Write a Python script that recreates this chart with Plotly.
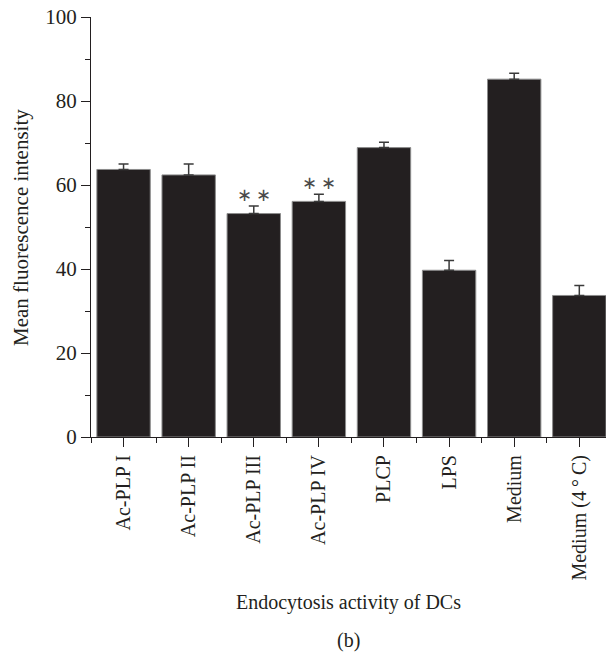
import plotly.graph_objects as go

categories = ["Ac-PLP I", "Ac-PLP II", "Ac-PLP III", "Ac-PLP IV", "PLCP", "LPS", "Medium", "Medium (4\u2009°\u2009C)"]
values = [63.7, 62.4, 53.2, 56.1, 68.9, 39.7, 85.2, 33.7]
errors = [1.3, 2.6, 1.8, 1.7, 1.3, 2.3, 1.4, 2.4]
significance = ["", "", "**", "**", "", "", "", ""]
y_ticks = [0, 20, 40, 60, 80, 100]

FONT = "Liberation Serif"
INK = "#231f20"
FS = 20

x = list(range(len(categories)))

fig = go.Figure()
fig.add_trace(go.Bar(
    x=x, y=values, width=0.82,
    marker=dict(color=INK, line=dict(color="#8c8c8c", width=1)),
    error_y=dict(type="data", symmetric=False, array=errors,
                 arrayminus=[0] * len(errors), color="#3a3a3a",
                 thickness=1.5, width=5),
    showlegend=False,
))

for i, s in enumerate(significance):
    if s:
        fig.add_annotation(x=x[i], y=values[i] + errors[i] + 2.7, text="∗\u2009∗",
                           showarrow=False, yanchor="middle",
                           font=dict(family=FONT, size=18, color="#4a4a4a"))

fig.add_annotation(x=0.5, y=-0.3936, xref="paper", yref="paper",
                   text="Endocytosis activity of DCs", showarrow=False,
                   yanchor="middle", font=dict(family=FONT, size=FS, color=INK))
fig.add_annotation(x=-0.136, y=0.5, xref="paper", yref="paper",
                   text="Mean fluorescence intensity", showarrow=False, textangle=-90,
                   xanchor="center", yanchor="middle",
                   font=dict(family=FONT, size=21, color=INK))
fig.add_annotation(x=0.5, y=-0.484, xref="paper", yref="paper", text="(b)",
                   showarrow=False, yanchor="middle",
                   font=dict(family=FONT, size=FS, color=INK))

fig.update_layout(
    width=606, height=654,
    margin=dict(l=91, r=0, t=17, b=217),
    paper_bgcolor="white", plot_bgcolor="white",
    font=dict(family=FONT, size=FS, color=INK),
)
fig.update_xaxes(
    range=[-0.5, 7.41], tickvals=x, ticktext=categories, tickangle=-90,
    showline=True, linecolor=INK, linewidth=1.2,
    ticks="outside", ticklen=9, tickwidth=1.2, tickcolor=INK,
    minor=dict(ticks="outside", ticklen=5, tickwidth=1.2, tickcolor=INK, tick0=0.5, dtick=1),
    showgrid=False, zeroline=False,
    tickfont=dict(family=FONT, size=FS, color=INK),
)
fig.update_yaxes(
    range=[0, 100], tickvals=y_ticks,
    showline=True, linecolor=INK, linewidth=1.2,
    ticks="outside", ticklen=9, tickwidth=1.2, tickcolor=INK,
    minor=dict(ticks="outside", ticklen=5, tickwidth=1.2, tickcolor=INK, dtick=10),
    showgrid=False, zeroline=False,
    tickfont=dict(family=FONT, size=21, color=INK),
)

fig.write_html("out.html")
